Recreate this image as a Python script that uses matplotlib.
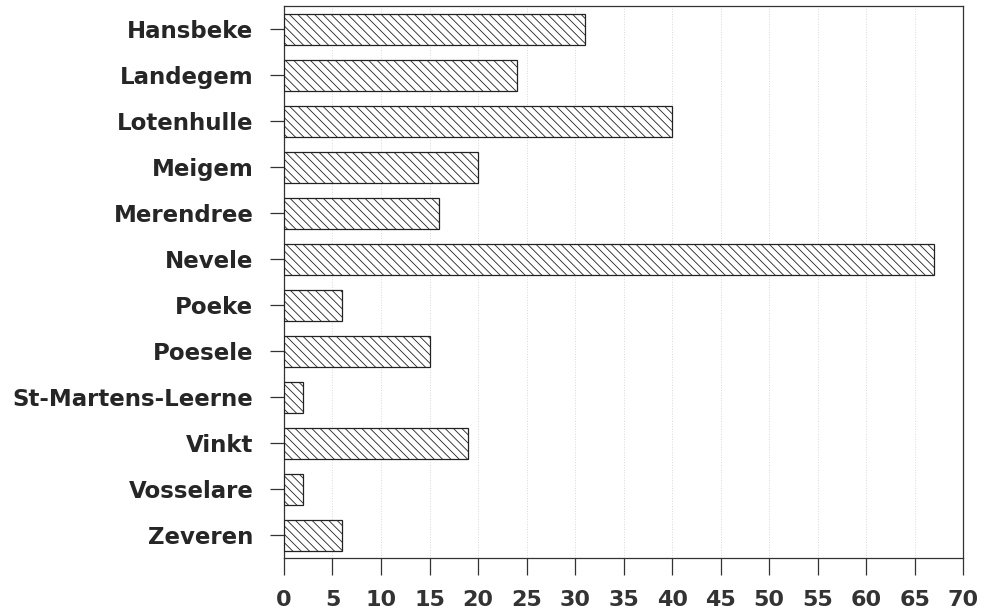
import numpy as np
import matplotlib.pyplot as plt

# Gemeenten en aantallen
gemeenten = ['Hansbeke', 'Landegem', 'Lotenhulle', 'Meigem', 'Merendree',
             'Nevele', 'Poeke', 'Poesele', 'St-Martens-Leerne', 'Vinkt',
             'Vosselare', 'Zeveren']
aantallen = [31, 24, 40, 20, 16, 67, 6, 15, 2, 19, 2, 6]
x_ticks = list(range(0, 75, 5))

plt.rcParams['hatch.linewidth'] = 0.6
plt.rcParams['hatch.color'] = '#222222'

fig = plt.figure(figsize=(9.86, 6.10), dpi=100)
ax = fig.add_axes([0.288, 0.085, 0.689, 0.905])

y = np.arange(len(gemeenten))
ax.barh(y, aantallen, height=0.67, color='white', edgecolor='#222222',
        linewidth=0.9, hatch=chr(92) * 4, zorder=3)

ax.set_xlim(0, 70)
ax.set_ylim(len(gemeenten) - 0.5, -0.5)
ax.set_xticks(x_ticks)
ax.set_xticklabels([str(t) for t in x_ticks], fontsize=16, fontweight='bold',
                   family='DejaVu Sans', color='#333333')
ax.set_yticks(y)
ax.set_yticklabels(gemeenten, fontsize=16.5, fontweight='bold',
                   family='DejaVu Sans', color='#262626')

ax.tick_params(axis='y', length=10, width=0.9, pad=12, color='#333333')
ax.tick_params(axis='x', length=12, width=0.9, pad=11, color='#333333')

# vage verticale hulplijnen zoals op de scan
ax.grid(axis='x', color='#d8d8d8', linestyle=':', linewidth=0.7, zorder=0)

for side in ['left', 'right', 'top', 'bottom']:
    ax.spines[side].set_color('#333333')
    ax.spines[side].set_linewidth(0.9)

fig.savefig('out.png', dpi=100)
